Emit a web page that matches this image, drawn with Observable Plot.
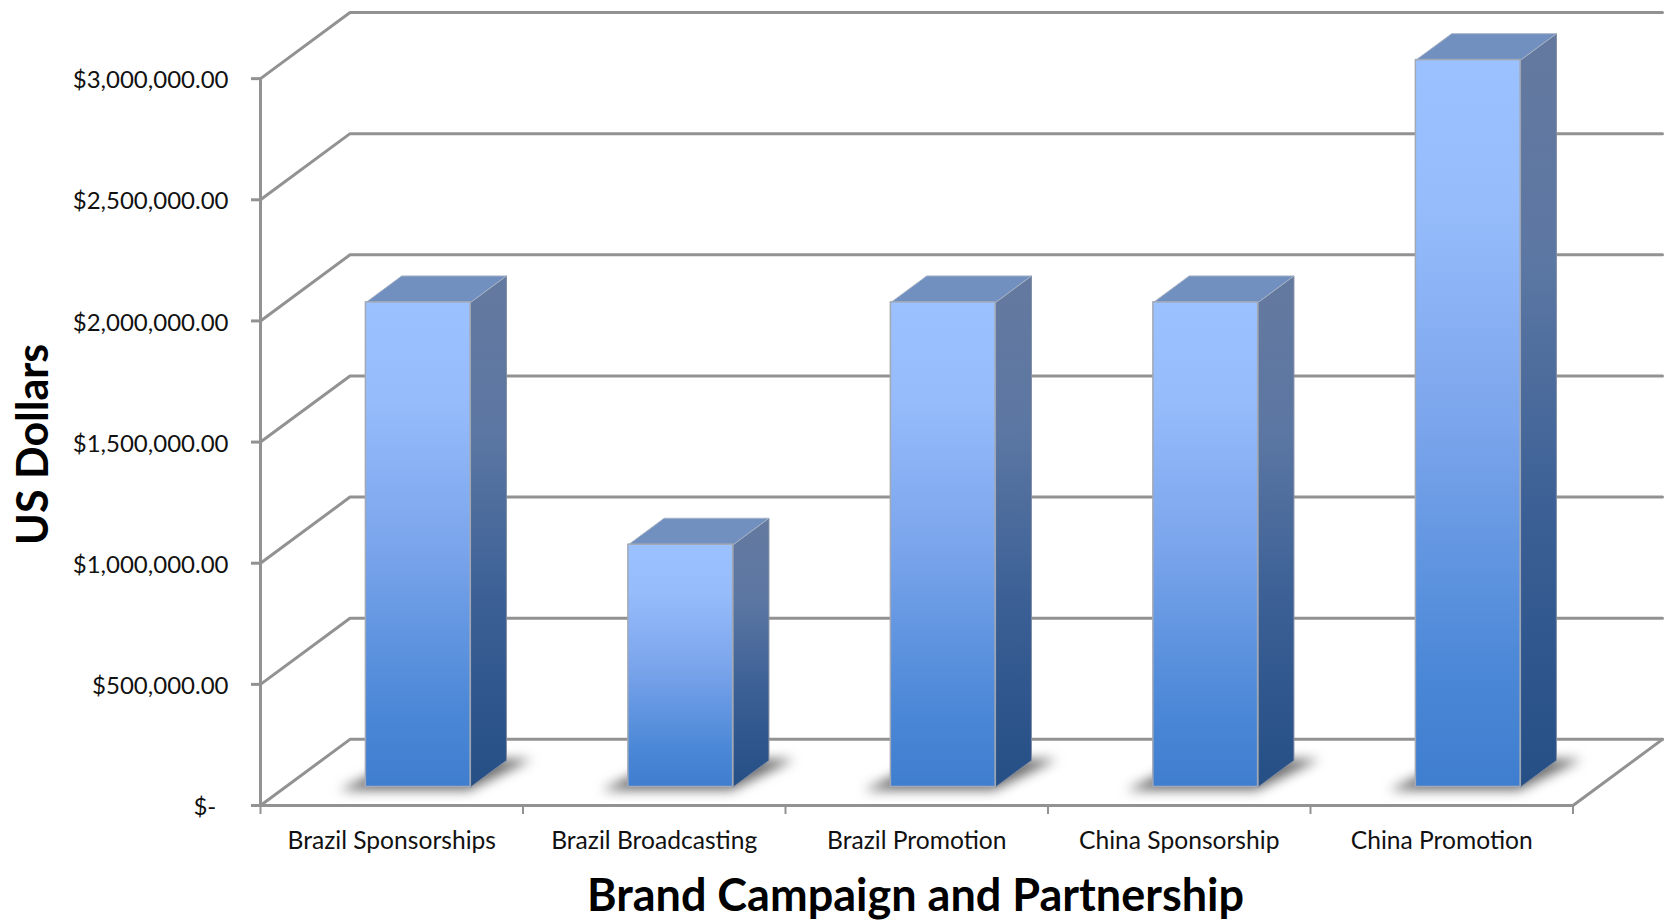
<!DOCTYPE html>
<html>
<head>
<meta charset="utf-8">
<title>Brand Campaign and Partnership</title>
<script src="https://cdn.jsdelivr.net/npm/d3@7"></script>
<script src="https://cdn.jsdelivr.net/npm/@observablehq/plot@0.6"></script>
<style>
  html, body { margin: 0; padding: 0; background: #fff; }
  svg { display: block; }
</style>
</head>
<body>
<div id="chart"></div>
<script>
// Spending per campaign, in US dollars
const categories = ["Brazil Sponsorships", "Brazil Broadcasting", "Brazil Promotion", "China Sponsorship", "China Promotion"];
const spend = [2000000, 1000000, 2000000, 2000000, 3000000];
const yTicks = [0, 500000, 1000000, 1500000, 2000000, 2500000, 3000000];

// Oblique projection of the chart's third axis, expressed in data units
const depthCategories = 0.341;
const depthDollars = 273000;
const place = (cat, depth, value) => ({x: cat + depth * depthCategories, y: value + depth * depthDollars});

// Where each column sits along the category and depth axes
const barStart = 0.306, barEnd = 0.705;
const depthFront = 0.28, depthBack = 0.68;

const wallLines = yTicks.flatMap((v) => [place(0, 0, v), place(0, 1, v), place(categories.length, 1, v)].map((p) => ({...p, key: v})));
const floorEdge = [place(0, 0, 0), place(categories.length, 0, 0), place(categories.length, 1, 0)];

const face = (corners) => spend.flatMap((v, i) => {
  const pts = corners(i, v).map(([c, d, h]) => ({...place(c, d, h), bar: i}));
  return [...pts, pts[0]];
});
const sideFaces = face((i, v) => [
  [i + barEnd, depthFront, 0], [i + barEnd, depthBack, 0], [i + barEnd, depthBack, v], [i + barEnd, depthFront, v]
]);
const topFaces = face((i, v) => [
  [i + barStart, depthFront, v], [i + barEnd, depthFront, v], [i + barEnd, depthBack, v], [i + barStart, depthBack, v]
]);
const shadows = face((i) => [
  [i + barStart - 0.085, depthFront - 0.05, 0], [i + barEnd + 0.01, depthFront - 0.05, 0],
  [i + barEnd + 0.09, depthBack + 0.02, 0], [i + barStart, depthBack + 0.02, 0]
]);
const fronts = spend.map((v, i) => {
  const a = place(i + barStart, depthFront, 0), b = place(i + barEnd, depthFront, v);
  return {x1: a.x, x2: b.x, y1: a.y, y2: b.y};
});

const dollars = (v) => v === 0 ? "$-\u00a0\u00a0" : "$" + d3.format(",.2f")(v);
const gridColor = "#929292";

// Vertical gradients for the lit front and the darker side of each column
const gradients = () => {
  const ns = "http://www.w3.org/2000/svg";
  const defs = document.createElementNS(ns, "defs");
  const add = (id, stops) => {
    const g = document.createElementNS(ns, "linearGradient");
    g.setAttribute("id", id);
    g.setAttribute("x1", 0); g.setAttribute("x2", 0); g.setAttribute("y1", 0); g.setAttribute("y2", 1);
    stops.forEach(([o, c]) => {
      const s = document.createElementNS(ns, "stop");
      s.setAttribute("offset", o); s.setAttribute("stop-color", c);
      g.appendChild(s);
    });
    defs.appendChild(g);
  };
  add("front", [[0, "#9cc1ff"], [0.2, "#96bcfb"], [0.5, "#7ba5ec"], [0.85, "#4a87d6"], [1, "#3f7dcf"]]);
  add("side", [[0, "#64799f"], [0.3, "#5c77a3"], [0.65, "#3a5f95"], [1, "#254f85"]]);
  return defs;
};

const chart = Plot.plot({
  width: 1671,
  height: 920,
  marginLeft: 260,
  marginRight: 9,
  marginTop: 12,
  marginBottom: 115,
  style: {fontFamily: "Lato", background: "#fff", color: "#111", overflow: "visible"},
  x: {domain: [0, categories.length + depthCategories], label: null},
  y: {domain: [0, yTicks[yTicks.length - 1] + depthDollars], label: null},
  marks: [
    gradients,
    Plot.line(wallLines, {x: "x", y: "y", z: "key", stroke: gridColor, strokeWidth: 3, strokeLinejoin: "miter"}),
    Plot.line(floorEdge, {x: "x", y: "y", stroke: gridColor, strokeWidth: 3}),
    Plot.ruleX([0], {y1: 0, y2: yTicks[yTicks.length - 1], stroke: gridColor, strokeWidth: 3}),
    Plot.line(shadows, {x: "x", y: "y", z: "bar", fill: "#555", stroke: null, fillOpacity: 0.85, imageFilter: "blur(6px)"}),
    Plot.line(sideFaces, {x: "x", y: "y", z: "bar", fill: "url(#side)", stroke: "#7f8ba0", strokeWidth: 1}),
    Plot.line(topFaces, {x: "x", y: "y", z: "bar", fill: "#7190c0", stroke: "#a9b4c6", strokeWidth: 1}),
    Plot.rect(fronts, {x1: "x1", x2: "x2", y1: "y1", y2: "y2", fill: "url(#front)", stroke: "#a2a9b5", strokeWidth: 1.5}),
    Plot.axisY({ticks: yTicks, tickFormat: () => "", tickSize: 9, stroke: gridColor, strokeWidth: 3, label: null}),
    Plot.axisY({ticks: yTicks, tickFormat: dollars, tickSize: 0, tickPadding: 32, dy: 2, fontSize: 24, label: null}),
    Plot.axisX(d3.range(categories.length + 1), {tickFormat: () => "", tickSize: 9, stroke: gridColor, strokeWidth: 2, label: null}),
    Plot.axisX(categories.map((_, i) => i + 0.5), {tickFormat: (t) => categories[Math.floor(t)], tickSize: 0, tickPadding: 26, fontSize: 24.6, label: null}),
    Plot.text(["US Dollars"], {frameAnchor: "left", rotate: -90, dx: -226, dy: 136, fontSize: 43, fontWeight: "bold", fill: "#000"}),
    Plot.text(["Brand Campaign and Partnership"], {frameAnchor: "bottom", dx: -46, dy: 105, fontSize: 45, fontWeight: "bold", fill: "#000"})
  ]
});
document.getElementById("chart").appendChild(chart);
</script>
</body>
</html>
